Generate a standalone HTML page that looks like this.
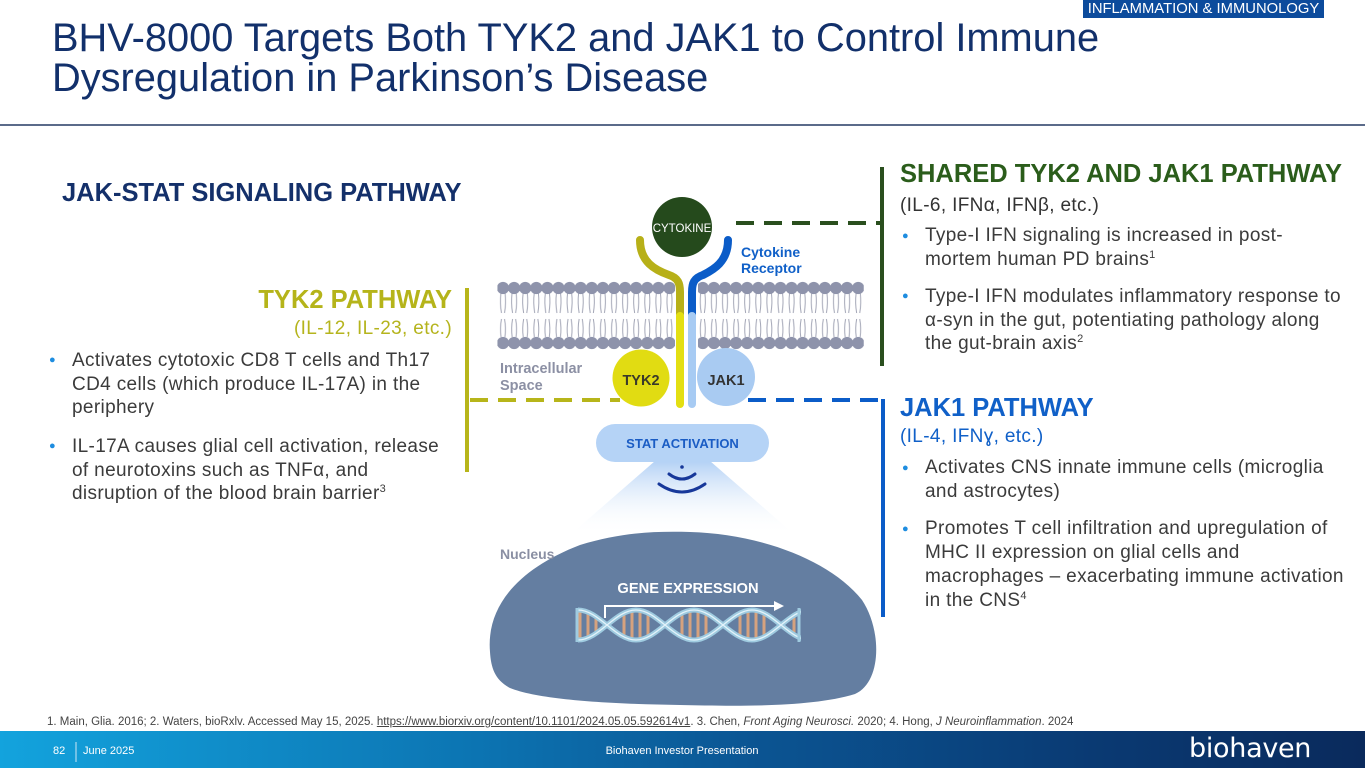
<!DOCTYPE html>
<html><head><meta charset="utf-8">
<style>
html,body{margin:0;padding:0;}
body{width:1365px;height:768px;position:relative;overflow:hidden;background:#fff;font-family:"Liberation Sans",Arial,sans-serif;}
.a{position:absolute;white-space:nowrap;}
.title{left:52px;top:18px;font-size:39.8px;line-height:40px;color:#12306b;}
.h{font-size:25.5px;line-height:30px;font-weight:bold;}
.sub{font-size:19px;line-height:23.5px;letter-spacing:0.35px;}
.bl{font-size:19px;line-height:24px;color:#3b3b3b;letter-spacing:0.35px;}
.bl .d{position:absolute;left:-23px;top:0;color:#1e8de0;font-size:11px;}
sup{font-size:11px;line-height:0;vertical-align:7px;letter-spacing:0;}
</style></head><body>

<div class="a" style="left:1083px;top:0;width:241px;height:18px;background:#0c4b9c;color:#fff;font-size:14.8px;line-height:18px;text-align:center;">INFLAMMATION &amp; IMMUNOLOGY</div>
<div class="a title">BHV-8000 Targets Both TYK2 and JAK1 to Control Immune<br>Dysregulation in Parkinson’s Disease</div>
<div class="a" style="left:0;top:124px;width:1365px;height:1.5px;background:#5b6b8a;"></div>

<svg class="a" style="left:0;top:0" width="1365" height="768" viewBox="0 0 1365 768">
<defs>
<pattern id="mem" patternUnits="userSpaceOnUse" x="497.45" y="281" width="11.1" height="70">
<path d="M3.5,12 Q2.3,22 4,32 M7.6,12 Q8.8,22 7.1,32 M4,38 Q2.4,47 3.6,56 M7.1,38 Q8.7,47 7.5,56" stroke="#a3a6b6" stroke-width="1" fill="none"/>
<circle cx="5.55" cy="7" r="6.1" fill="#8e93ab"/>
<circle cx="5.55" cy="62" r="6.1" fill="#8e93ab"/>
</pattern>
<linearGradient id="cone" x1="0" y1="0" x2="0" y2="1">
<stop offset="0" stop-color="#b3d1f5" stop-opacity="1"/>
<stop offset="1" stop-color="#ffffff" stop-opacity="0"/>
</linearGradient>
<linearGradient id="foot" x1="0" y1="0" x2="1" y2="0">
<stop offset="0" stop-color="#13a3dd"/>
<stop offset="0.35" stop-color="#0c74b2"/>
<stop offset="0.55" stop-color="#0b5593"/>
<stop offset="0.8" stop-color="#0a3a73"/>
<stop offset="1" stop-color="#0a2a5c"/>
</linearGradient>
<clipPath id="dnaclip"><rect x="575" y="600" width="226" height="50"/></clipPath>
</defs>

<!-- membrane -->
<rect x="497.45" y="281" width="366.3" height="70" fill="url(#mem)"/>
<rect x="675" y="279" width="23" height="72" fill="#fff"/>

<!-- cone -->
<polygon points="655,461 710,461 795,535 570,535" fill="url(#cone)"/>

<!-- nucleus -->
<path d="M490,652 C486,605 520,568 580,545 C620,533 650,531 690,532 C760,534 830,560 862,600 C882,630 882,682 855,694 C810,708 730,706 680,705 C610,704 540,700 510,688 C495,680 491,668 490,652 Z" fill="#647ea1"/>

<!-- DNA -->
<g clip-path="url(#dnaclip)">
<g stroke="#d6a27e" stroke-width="3">
<line x1="580" y1="611" x2="580" y2="639"/><line x1="588" y1="612" x2="588" y2="638"/><line x1="596" y1="615" x2="596" y2="635"/>
<line x1="624" y1="615" x2="624" y2="635"/><line x1="632" y1="612" x2="632" y2="638"/><line x1="640" y1="612" x2="640" y2="638"/><line x1="648" y1="615" x2="648" y2="635"/>
<line x1="682" y1="615" x2="682" y2="635"/><line x1="690" y1="612" x2="690" y2="638"/><line x1="698" y1="612" x2="698" y2="638"/><line x1="706" y1="615" x2="706" y2="635"/>
<line x1="740" y1="615" x2="740" y2="635"/><line x1="748" y1="612" x2="748" y2="638"/><line x1="756" y1="612" x2="756" y2="638"/><line x1="764" y1="615" x2="764" y2="635"/>
<line x1="794" y1="613" x2="794" y2="637"/>
</g>
<g fill="none" stroke="#9fcbe0" stroke-width="5">
<path d="M578,610 C599,610 615,640 636,640 C657,640 673,610 694,610 C715,610 731,640 752,640 C773,640 789,610 810,610"/>
<path d="M578,640 C599,640 615,610 636,610 C657,610 673,640 694,640 C715,640 731,610 752,610 C773,610 789,640 810,640"/>
</g>
<g fill="none" stroke="#e3f3fb" stroke-width="1.3">
<path d="M578,610 C599,610 615,640 636,640 C657,640 673,610 694,610 C715,610 731,640 752,640 C773,640 789,610 810,610"/>
<path d="M578,640 C599,640 615,610 636,610 C657,610 673,640 694,640 C715,640 731,610 752,610 C773,610 789,640 810,640"/>
</g>
<line x1="577" y1="608" x2="577" y2="642" stroke="#9fcbe0" stroke-width="3"/>
<line x1="799" y1="608" x2="799" y2="642" stroke="#9fcbe0" stroke-width="3"/>
</g>
<!-- arrow -->
<path d="M605,618 L605,606 L776,606" fill="none" stroke="#fff" stroke-width="2"/>
<polygon points="774,601 784,606 774,611" fill="#fff"/>

<!-- dashed connectors -->
<line x1="736" y1="223" x2="882" y2="223" stroke="#2a4f1e" stroke-width="4" stroke-dasharray="18,10"/>
<line x1="470" y1="400" x2="620" y2="400" stroke="#b7b51a" stroke-width="4" stroke-dasharray="18,10"/>
<line x1="748" y1="400" x2="885" y2="400" stroke="#0b5cc8" stroke-width="4" stroke-dasharray="18,10"/>

<!-- bars -->
<rect x="465" y="288" width="4" height="184" fill="#b7b51a"/>
<rect x="880" y="167" width="4" height="199" fill="#2a4f1e"/>
<rect x="881" y="399" width="4" height="218" fill="#0b5cc8"/>

<!-- kinases -->
<circle cx="641" cy="378" r="28.5" fill="#e1dc12"/>
<circle cx="726" cy="377" r="29" fill="#a9cbf2"/>

<!-- receptor -->
<path d="M640,240 C640,262 655,270 669,275 C678,278 680,283 680,292 L680,314" fill="none" stroke="#b7b018" stroke-width="8" stroke-linecap="round"/>
<path d="M728,240 C728,262 713,270 703,275 C694,278 692,283 692,292 L692,314" fill="none" stroke="#0b5cc8" stroke-width="8" stroke-linecap="round"/>
<line x1="680" y1="316" x2="680" y2="404" stroke="#e3df12" stroke-width="8" stroke-linecap="round"/>
<line x1="692" y1="316" x2="692" y2="404" stroke="#a7cbf3" stroke-width="8" stroke-linecap="round"/>

<!-- cytokine -->
<circle cx="682" cy="227" r="30" fill="#254a1c"/>
<text x="682" y="232" text-anchor="middle" font-family="Liberation Sans, sans-serif" font-size="11.5" fill="#fff">CYTOKINE</text>

<text x="741" y="257" font-family="Liberation Sans, sans-serif" font-size="14" font-weight="bold" fill="#1060c8">Cytokine</text>
<text x="741" y="273" font-family="Liberation Sans, sans-serif" font-size="14" font-weight="bold" fill="#1060c8">Receptor</text>
<text x="500" y="373" font-family="Liberation Sans, sans-serif" font-size="14.5" font-weight="bold" fill="#8c90a4">Intracellular</text>
<text x="500" y="390" font-family="Liberation Sans, sans-serif" font-size="14.5" font-weight="bold" fill="#8c90a4">Space</text>
<text x="641" y="385" text-anchor="middle" font-family="Liberation Sans, sans-serif" font-size="14.5" font-weight="bold" fill="#3a3a2a">TYK2</text>
<text x="726" y="385" text-anchor="middle" font-family="Liberation Sans, sans-serif" font-size="14.5" font-weight="bold" fill="#333">JAK1</text>

<!-- STAT -->
<rect x="596" y="424" width="173" height="38" rx="19" fill="#b5d3f6"/>
<text x="682.5" y="448" text-anchor="middle" font-family="Liberation Sans, sans-serif" font-size="13" font-weight="bold" fill="#1a5cc4">STAT ACTIVATION</text>
<circle cx="682" cy="467" r="1.8" fill="#17389a"/>
<path d="M669,474 Q682,484 695,474" fill="none" stroke="#17389a" stroke-width="3" stroke-linecap="round"/>
<path d="M659,484 Q682,500 705,484" fill="none" stroke="#17389a" stroke-width="3" stroke-linecap="round"/>

<text x="500" y="559" font-family="Liberation Sans, sans-serif" font-size="14" font-weight="bold" fill="#8a8fa3">Nucleus</text>
<text x="688" y="593" text-anchor="middle" font-family="Liberation Sans, sans-serif" font-size="14.7" font-weight="bold" fill="#fff">GENE EXPRESSION</text>

<!-- footer bar -->
<rect x="0" y="731" width="1365" height="37" fill="url(#foot)"/>
<line x1="76" y1="742" x2="76" y2="762" stroke="#cfe6f5" stroke-width="1"/>
</svg>

<!-- left text -->
<div class="a h" style="left:62px;top:178px;color:#14306a;">JAK-STAT SIGNALING PATHWAY</div>
<div class="a h" style="right:913px;top:285px;color:#b5b41a;">TYK2 PATHWAY</div>
<div class="a sub" style="right:913px;top:317px;color:#b5b41d;">(IL-12, IL-23, etc.)</div>
<div class="a bl" style="left:72px;top:349px;line-height:23.5px;"><span class="d">●</span>Activates cytotoxic CD8 T cells and Th17<br>CD4 cells (which produce IL-17A) in the<br>periphery</div>
<div class="a bl" style="left:72px;top:435px;line-height:23.5px;"><span class="d">●</span>IL-17A causes glial cell activation, release<br>of neurotoxins such as TNFα, and<br>disruption of the blood brain barrier<sup>3</sup></div>

<!-- right text -->
<div class="a h" style="left:900px;top:159px;color:#2b5d1b;">SHARED TYK2 AND JAK1 PATHWAY</div>
<div class="a sub" style="left:900px;top:194px;color:#333;">(IL-6, IFNα, IFNβ, etc.)</div>
<div class="a bl" style="left:925px;top:224px;"><span class="d">●</span>Type-I IFN signaling is increased in post-<br>mortem human PD brains<sup>1</sup></div>
<div class="a bl" style="left:925px;top:285px;line-height:23.5px;"><span class="d">●</span>Type-I IFN modulates inflammatory response to<br>α-syn in the gut, potentiating pathology along<br>the gut-brain axis<sup>2</sup></div>

<div class="a h" style="left:900px;top:393px;color:#1060c8;">JAK1 PATHWAY</div>
<div class="a sub" style="left:900px;top:425px;color:#1060c8;">(IL-4, IFNɣ, etc.)</div>
<div class="a bl" style="left:925px;top:456px;"><span class="d">●</span>Activates CNS innate immune cells (microglia<br>and astrocytes)</div>
<div class="a bl" style="left:925px;top:517px;"><span class="d">●</span>Promotes T cell infiltration and upregulation of<br>MHC II expression on glial cells and<br>macrophages – exacerbating immune activation<br>in the CNS<sup>4</sup></div>

<!-- references -->
<div class="a" style="left:47px;top:715px;font-size:11.5px;line-height:14px;color:#444;">1. Main, Glia. 2016; 2. Waters, bioRxlv. Accessed May 15, 2025. <span style="text-decoration:underline;">https://www.biorxiv.org/content/10.1101/2024.05.05.592614v1</span>. 3. Chen, <i>Front Aging Neurosci.</i> 2020; 4. Hong, <i>J Neuroinflammation</i>. 2024</div>

<!-- footer text -->
<div class="a" style="left:53px;top:744px;font-size:11px;line-height:14px;color:#fff;">82</div>
<div class="a" style="left:83px;top:744px;font-size:11px;line-height:14px;color:#fff;">June 2025</div>
<div class="a" style="left:597px;top:744px;width:170px;text-align:center;font-size:11px;line-height:14px;color:#fff;">Biohaven Investor Presentation</div>
<div class="a" style="left:1189px;top:733px;font-family:'DejaVu Sans',sans-serif;font-size:27px;line-height:32px;color:#fff;letter-spacing:-0.3px;">biohaven</div>

</body></html>
